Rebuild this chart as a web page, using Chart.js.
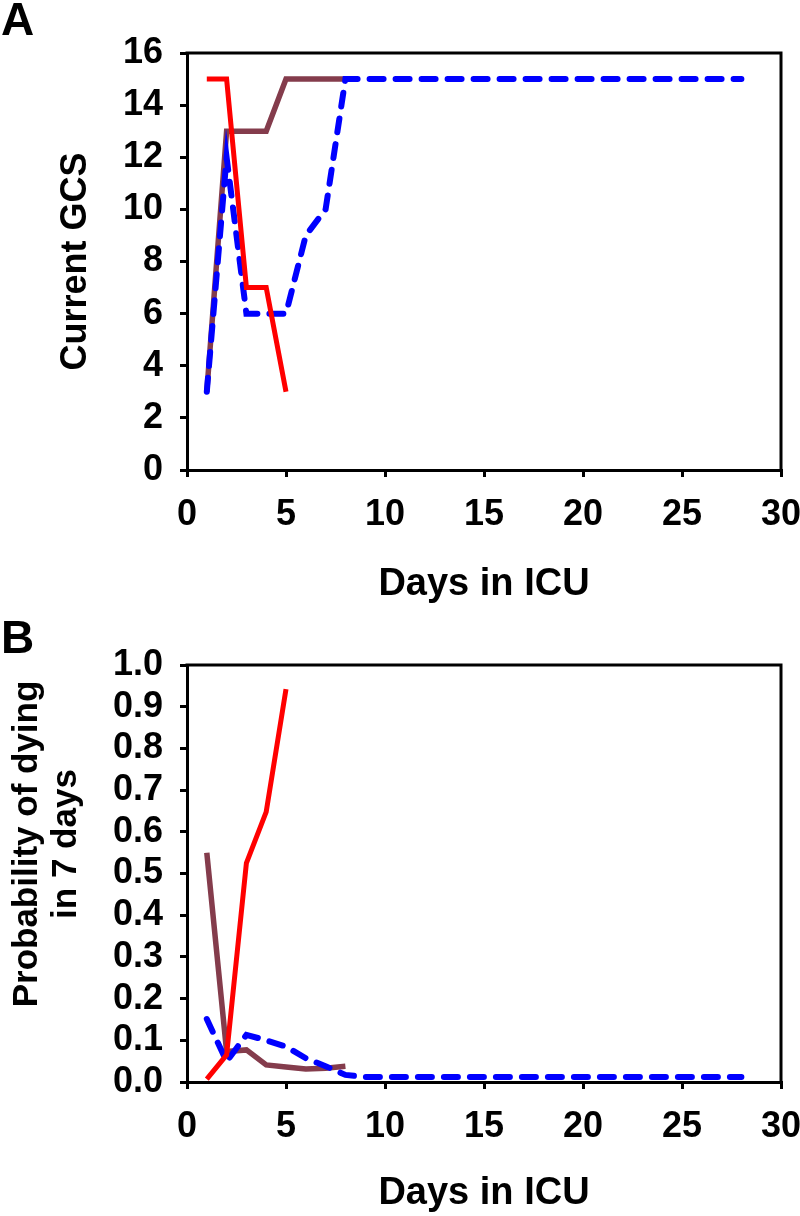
<!DOCTYPE html>
<html>
<head>
<meta charset="utf-8">
<script src="https://cdn.jsdelivr.net/npm/chart.js@4/dist/chart.umd.min.js"></script>
<style>
  body { margin: 0; background: #fff; }
  .painel { position: relative; width: 800px; height: 608px; }
  .painel canvas { display: block; }
  .letra { position: absolute; left: 1px; top: -4px; font: bold 46px "Liberation Sans", Arial, sans-serif; line-height: 1; color: #000; }
</style>
</head>
<body>
<div class="painel"><div class="letra">A</div><canvas id="chart_gcs" width="800" height="608"></canvas></div>
<div class="painel"><div class="letra" style="top:6px">B</div><canvas id="chart_prob" width="800" height="608"></canvas></div>
<script>
// Dados
var dias = [1, 2, 3, 4, 5, 6, 7, 8, 9, 10, 11, 12, 13, 14, 15, 16, 17, 18, 19, 20, 21, 22, 23, 24, 25, 26, 27, 28];

var gcsVermelho = [15, 15, 7, 7, 3];
var gcsMarrom = [3, 13, 13, 13, 15, 15, 15, 15];
var gcsAzul = [3, 12, 6, 6, 6, 9, 10, 15, 15, 15, 15, 15, 15, 15, 15, 15, 15, 15, 15, 15, 15, 15, 15, 15, 15, 15, 15, 15];

var probVermelho = [0.007, 0.065, 0.525, 0.648, 0.942];
var probMarrom = [0.55, 0.073, 0.077, 0.041, 0.036, 0.031, 0.033, 0.038];
var probAzul = [0.151, 0.049, 0.113, 0.100, 0.085, 0.057, 0.038, 0.017, 0.012, 0.012, 0.012, 0.012, 0.012, 0.012, 0.012, 0.012, 0.012, 0.012, 0.012, 0.012, 0.012, 0.012, 0.012, 0.012, 0.012, 0.012, 0.012, 0.012];

var ticksX = [0, 5, 10, 15, 20, 25, 30];
var tituloProb = ['Probability of dying', 'in 7 days'];

var VERMELHO = '#FF0000';
var MARROM = '#843C4C';
var AZUL = '#0000FF';
var FONTE = '"Liberation Sans", Arial, sans-serif';

function pontos(valores) {
  return valores.map(function (v, i) { return { x: dias[i], y: v }; });
}

// moldura superior e direita do gráfico
var moldura = {
  id: 'moldura',
  afterDraw: function (chart) {
    var a = chart.chartArea;
    var ctx = chart.ctx;
    ctx.save();
    ctx.strokeStyle = '#000';
    ctx.lineWidth = 3;
    ctx.beginPath();
    ctx.moveTo(a.left - 1.5, a.top);
    ctx.lineTo(a.right, a.top);
    ctx.lineTo(a.right, a.bottom + 1.5);
    ctx.stroke();
    ctx.restore();
  }
};

// título do eixo Y em duas linhas (centro um pouco acima do meio, como no original)
var tituloY = {
  id: 'tituloY',
  afterDraw: function (chart, args, opts) {
    if (!opts.linhas) return;
    var ctx = chart.ctx;
    ctx.save();
    ctx.fillStyle = '#000';
    ctx.font = 'bold ' + opts.tamanho + 'px ' + FONTE;
    ctx.textAlign = 'center';
    ctx.textBaseline = 'middle';
    opts.linhas.forEach(function (txt, i) {
      ctx.save();
      ctx.translate(opts.x[i], opts.y);
      ctx.rotate(-Math.PI / 2);
      ctx.fillText(txt, 0, 0);
      ctx.restore();
    });
    ctx.restore();
  }
};

function criarGrafico(ctx, series, eixoY, topo, alturaX, tituloX, extraY) {
  return new Chart(ctx, {
    type: 'line',
    data: {
      datasets: [{
        data: pontos(series[0]), // vermelho fica por cima
        borderColor: VERMELHO,
        borderWidth: 5
      }, {
        data: pontos(series[1]),
        borderColor: AZUL,
        borderWidth: 6,
        borderDash: [14, 12],
        borderCapStyle: 'round'
      }, {
        data: pontos(series[2]),
        borderColor: MARROM,
        borderWidth: 5.5
      }]
    },
    options: {
      responsive: false,
      animation: false,
      layout: {
        padding: { top: topo, right: 0, left: 0, bottom: 0 }
      },
      elements: {
        point: { radius: 0 },
        line: { tension: 0, fill: false }
      },
      plugins: {
        legend: { display: false },
        tooltip: { enabled: false },
        tituloY: extraY || {}
      },
      scales: {
        x: {
          type: 'linear',
          min: 0,
          max: 30,
          afterBuildTicks: function (s) { s.ticks = ticksX.map(function (v) { return { value: v }; }); },
          ticks: { color: '#000', font: { family: FONTE, size: 36, weight: 'bold' }, padding: 16, maxRotation: 0 },
          grid: { drawOnChartArea: false, drawTicks: true, tickLength: 7, color: '#000', lineWidth: 3 },
          border: { color: '#000', width: 3 },
          title: { display: true, text: 'Days in ICU', color: '#000', font: { family: FONTE, size: 38, weight: 'bold' }, padding: { top: 0, bottom: tituloX } },
          afterFit: function (s) {
            s.height = alturaX;
            s.paddingLeft = 0;
            s.paddingRight = 19;
          }
        },
        y: Object.assign({
          grid: { drawOnChartArea: false, drawTicks: true, tickLength: 7, color: '#000', lineWidth: 3 },
          border: { color: '#000', width: 3 },
          afterFit: function (s) { s.width = 187; }
        }, eixoY)
      }
    },
    plugins: [moldura, tituloY]
  });
}

criarGrafico(document.getElementById('chart_gcs'), [gcsVermelho, gcsAzul, gcsMarrom], {
  min: 0,
  max: 16,
  ticks: { stepSize: 2, autoSkip: false, color: '#000', font: { family: FONTE, size: 36, weight: 'bold' }, padding: 17 },
  title: { display: true, text: 'Current GCS', color: '#000', font: { family: FONTE, size: 36, weight: 'bold', lineHeight: 1.2 }, padding: { top: 54, bottom: 0 } }
}, 53, 138, 1);

criarGrafico(document.getElementById('chart_prob'), [probVermelho, probAzul, probMarrom], {
  min: 0,
  max: 1,
  ticks: {
    stepSize: 0.1, autoSkip: false, color: '#000', font: { family: FONTE, size: 36, weight: 'bold' }, padding: 17,
    callback: function (v) { return v.toFixed(1); }
  }
}, 57, 134, 0, { linhas: tituloProb, tamanho: 35, x: [27, 66], y: 236 });
</script>
</body>
</html>
